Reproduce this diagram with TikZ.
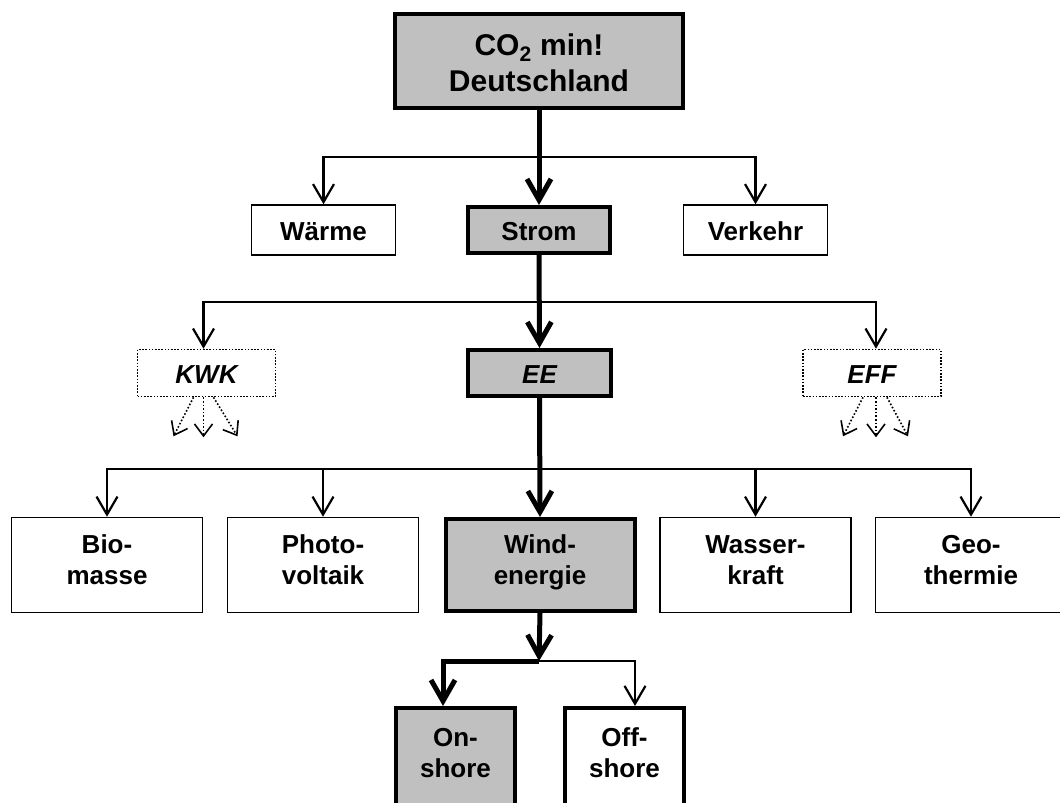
\documentclass[tikz,border=0pt]{standalone}
\usepackage{fontspec}
\setmainfont{Liberation Sans}
\usetikzlibrary{arrows.meta}
\definecolor{boxgray}{RGB}{192,192,192}
\tikzset{
  base/.style={draw, align=center, inner sep=0pt, font=\bfseries\fontsize{26}{31}\selectfont},
  oneline/.style={text height=21pt, text depth=0pt},
  twoline/.style={text height=52pt, text depth=14pt},
  thinbox/.style={base, line width=1.5pt, fill=white},
  hibox/.style={base, line width=4pt, fill=boxgray},
  dotbox/.style={base, line width=1.6pt, dash pattern=on 1.6pt off 1.6pt, font=\bfseries\itshape\fontsize{26}{31}\selectfont},
  thinarrow/.style={line width=2.2pt, -{Straight Barb[length=18pt,width=21pt]}},
  thickarrow/.style={line width=5pt, -{Straight Barb[length=21pt,width=24pt]}},
  dotarrow/.style={line width=1.6pt, dotted, -{Straight Barb[length=12pt,width=18pt]}},
}
\begin{document}
\begin{tikzpicture}[x=1pt,y=-1pt]
\clip (0,0) rectangle (1060,803);
\fill[white] (0,0) rectangle (1060,803);
% nodes
\node[hibox, line width=4.5pt, minimum width=288pt, minimum height=94pt, text height=60pt, text depth=0pt,
      font=\bfseries\fontsize{30}{36}\selectfont] (top) at (539,61) {CO\textsubscript{2} min!\\Deutschland};
\node[thinbox, oneline, minimum width=144pt, minimum height=50pt] (waerme) at (323.5,230) {Wärme};
\node[hibox, oneline, minimum width=142pt, minimum height=46pt] (strom) at (539,230) {Strom};
\node[thinbox, oneline, minimum width=144pt, minimum height=50pt] (verkehr) at (755.5,230) {Verkehr};
\node[dotbox, oneline, minimum width=138pt, minimum height=47pt] (kwk) at (206.5,373) {KWK};
\node[hibox, oneline, font=\bfseries\itshape\fontsize{26}{31}\selectfont, minimum width=143pt, minimum height=46pt] (ee) at (539.5,373) {EE};
\node[dotbox, oneline, minimum width=138pt, minimum height=47pt] (eff) at (872,373) {EFF};
\node[thinbox, twoline, minimum width=191pt, minimum height=95pt] (bio) at (107,565) {Bio-\\masse};
\node[thinbox, twoline, minimum width=191pt, minimum height=95pt] (photo) at (323,565) {Photo-\\voltaik};
\node[hibox, twoline, minimum width=189pt, minimum height=92pt] (wind) at (540,565) {Wind-\\energie};
\node[thinbox, twoline, minimum width=191pt, minimum height=95pt] (wasser) at (755.5,565) {Wasser-\\kraft};
\node[thinbox, twoline, minimum width=191pt, minimum height=95pt] (geo) at (971,565) {Geo-\\thermie};
\node[hibox, text height=52pt, text depth=18pt, minimum width=119pt, minimum height=104pt] (on) at (455.5,760) {On-\\shore};
\node[thinbox, line width=4pt, text height=52pt, text depth=18pt, minimum width=119pt, minimum height=104pt] (off) at (624.5,760) {Off-\\shore};
% branch points
\coordinate (j1) at (539,157);
\coordinate (j2) at (539,302);
\coordinate (j3) at (539,469);
\coordinate (j4) at (539,661);
% level 1
\draw[thinarrow] (j1) -| (waerme.north);
\draw[thinarrow] (j1) -| (verkehr.north);
\draw[thickarrow] (top.south) -- (strom.north);
% level 2
\draw[thinarrow] (j2) -| ([xshift=-3pt]kwk.north);
\draw[thinarrow] (j2) -| ([xshift=4pt]eff.north);
\draw[thickarrow] (strom.south) -- (ee.north);
% dotted outflows
\draw[dotarrow] ([xshift=-3pt]kwk.south) -- ++(0,40);
\draw[dotarrow] ([xshift=-13pt]kwk.south) -- ++(-20,39);
\draw[dotarrow] ([xshift=7pt]kwk.south) -- ++(24,39);
\draw[dotarrow] ([xshift=4pt]eff.south) -- ++(0,40);
\draw[dotarrow] ([xshift=-9pt]eff.south) -- ++(-20,39);
\draw[dotarrow] ([xshift=15pt]eff.south) -- ++(21,39);
% level 3
\draw[thinarrow] (j3) -| (bio.north);
\draw[thinarrow] (j3) -| (photo.north);
\draw[thinarrow] (j3) -| (wasser.north);
\draw[thinarrow] (j3) -| (geo.north);
\draw[thickarrow] (ee.south) -- (wind.north);
% level 4
\draw[thinarrow] (j4) -| ([xshift=10.5pt]off.north);
\draw[thickarrow] (wind.south) -- (j4);
\draw[thickarrow] (j4) -| ([xshift=-12.5pt]on.north);
\end{tikzpicture}
\end{document}
